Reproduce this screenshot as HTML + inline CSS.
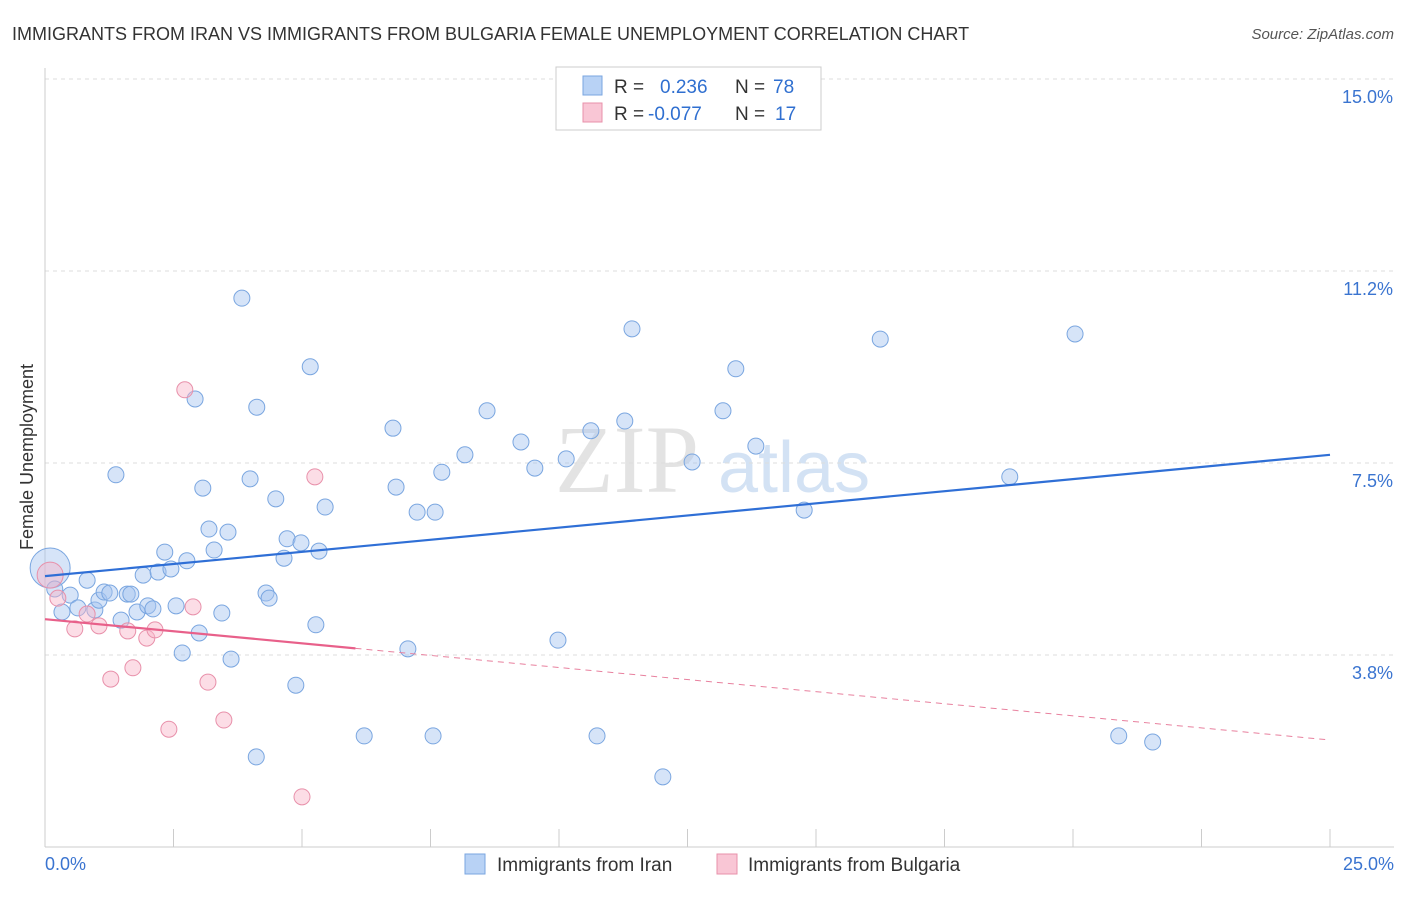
<!DOCTYPE html>
<html><head><meta charset="utf-8"><style>
body{margin:0;background:#fff;font-family:"Liberation Sans",sans-serif}
</style></head><body>
<svg id="chart" width="1406" height="892" xmlns="http://www.w3.org/2000/svg" font-family="Liberation Sans, sans-serif">
<text x="12" y="40" font-size="18" fill="#333">IMMIGRANTS FROM IRAN VS IMMIGRANTS FROM BULGARIA FEMALE UNEMPLOYMENT CORRELATION CHART</text>
<text x="1394" y="39" font-size="15" fill="#555" text-anchor="end" font-style="italic">Source: ZipAtlas.com</text>
<text x="555" y="492" font-size="96" fill="#ddd" font-family="Liberation Serif, serif" opacity="0.8">ZIP</text>
<text x="718" y="492" font-size="72" fill="#c9dcf2" opacity="0.8">atlas</text>
<g id="grid"></g>
<g id="marks"></g>
<text transform="translate(33,457) rotate(-90)" font-size="18" fill="#333" text-anchor="middle">Female Unemployment</text>
<g>
<rect x="556" y="67" width="265" height="63" fill="#fff" stroke="#ccc"/>
<rect x="583" y="76" width="19" height="19" fill="#b8d2f5" stroke="#7aa6e0"/>
<rect x="583" y="103" width="19" height="19" fill="#f9c6d5" stroke="#e890aa"/>
<text x="614" y="93" font-size="19" fill="#333">R =</text>
<text x="660" y="93" font-size="19" fill="#2f6fd0">0.236</text>
<text x="735" y="93" font-size="19" fill="#333">N =</text>
<text x="773" y="93" font-size="19" fill="#2f6fd0">78</text>
<text x="614" y="120" font-size="19" fill="#333">R =</text>
<text x="648" y="120" font-size="19" fill="#2f6fd0">-0.077</text>
<text x="735" y="120" font-size="19" fill="#333">N =</text>
<text x="775" y="120" font-size="19" fill="#2f6fd0">17</text>
</g>
<g>
<rect x="465" y="854" width="20" height="20" fill="#b8d2f5" stroke="#7aa6e0"/>
<text x="497" y="871" font-size="19" fill="#333">Immigrants from Iran</text>
<rect x="717" y="854" width="20" height="20" fill="#f9c6d5" stroke="#e890aa"/>
<text x="748" y="871" font-size="19" fill="#333">Immigrants from Bulgaria</text>
</g>
</svg>
<script>
const yTicks=[15.0,11.25,7.5,3.75];
const yTickLabels=["15.0%","11.2%","7.5%","3.8%"];
const xTickLabels=["0.0%","25.0%"];
const iranX=[0.10,0.19,0.33,0.49,0.64,0.82,0.97,1.05,1.15,1.26,1.38,1.48,1.60,1.67,1.79,1.91,2.00,2.10,2.20,2.33,2.45,2.55,2.67,2.76,2.92,3.00,3.07,3.19,3.29,3.44,3.56,3.62,3.83,3.99,4.11,4.12,4.30,4.36,4.49,4.65,4.71,4.88,4.98,5.16,5.27,5.33,5.45,6.21,6.77,6.83,7.06,7.24,7.55,7.59,7.72,8.17,8.60,9.26,9.53,9.98,10.14,10.62,10.74,11.28,11.42,12.02,12.59,13.19,13.44,13.83,14.77,16.25,18.77,20.04,20.89,21.55];
const iranY=[5.45,5.04,4.59,4.92,4.67,5.21,4.63,4.82,4.98,4.96,7.27,4.43,4.94,4.94,4.59,5.31,4.71,4.65,5.37,5.76,5.43,4.71,3.79,5.59,8.75,4.18,7.01,6.21,5.80,4.57,6.15,3.67,10.72,7.19,1.76,8.59,4.96,4.86,6.80,5.64,6.02,3.16,5.94,9.38,4.34,5.78,6.64,2.17,8.18,7.03,3.87,6.54,2.17,6.54,7.32,7.66,8.52,7.91,7.40,4.04,7.58,8.13,2.17,8.32,10.12,1.37,7.52,8.52,9.34,7.83,6.58,9.92,7.23,10.02,2.17,2.05];
const bulX=[0.10,0.25,0.58,0.82,1.05,1.28,1.61,1.71,1.98,2.14,2.41,2.72,2.88,3.17,3.48,5.00,5.25];
const bulY=[5.31,4.86,4.26,4.55,4.32,3.28,4.22,3.50,4.08,4.24,2.30,8.93,4.69,3.22,2.48,0.98,7.23];
const iranTrend=[5.29,7.66];
const bulTrend=[4.45,2.09];
const bulSolidEnd=6.04;
const NS="http://www.w3.org/2000/svg";
const X=v=>45+v*51.4, Y=v=>79+(15-v)*51.2;
function mk(tag,attrs,parent){const e=document.createElementNS(NS,tag);for(const k in attrs)e.setAttribute(k,attrs[k]);parent.appendChild(e);return e;}
const grid=document.getElementById('grid'), marks=document.getElementById('marks');
yTicks.forEach((t,i)=>{
 const l=mk('line',{x1:45,x2:1394,y1:Y(t),y2:Y(t),stroke:'#ddd','stroke-dasharray':'4,4'},grid);
 
 
 const tx=mk('text',{x:1393,y:Y(t)+24,'font-size':18,fill:'#3a74d0','text-anchor':'end'},grid);
 tx.textContent=yTickLabels[i];
 
 
});
const ax=mk('line',{x1:45,x2:1394,y1:Y(0),y2:Y(0),stroke:'#ccc'},grid);


const ay=mk('line',{x1:45,x2:45,y1:68,y2:Y(0),stroke:'#ccc'},grid);


for(let i=0;i<=10;i++){
 const tk=mk('line',{x1:X(i*2.5),x2:X(i*2.5),y1:Y(0),y2:Y(0)-18,stroke:'#ccc'},grid);
 
 
}
[[0,'start',45],[25,'end',1394]].forEach((d,i)=>{
 const tx=mk('text',{x:d[2],y:870,'font-size':18,fill:'#3a74d0','text-anchor':d[1]},grid);
 tx.textContent=xTickLabels[i];
 
 
});
iranX.forEach((x,i)=>{
 const c=mk('circle',{cx:X(x),cy:Y(iranY[i]),r:i===0?20:8,fill:'rgba(164,196,240,0.45)',stroke:'#7aa6e0','stroke-width':1},marks);
 
 
});
bulX.forEach((x,i)=>{
 const c=mk('circle',{cx:X(x),cy:Y(bulY[i]),r:i===0?13:8,fill:'rgba(248,180,200,0.45)',stroke:'#e890aa','stroke-width':1},marks);
 
 
});
const t1=mk('line',{x1:X(0),y1:Y(iranTrend[0]),x2:X(25),y2:Y(iranTrend[1]),stroke:'#2f6fd6','stroke-width':2.2},marks);


const bAt=v=>bulTrend[0]+(bulTrend[1]-bulTrend[0])*v/25;
const t2=mk('line',{x1:X(0),y1:Y(bulTrend[0]),x2:X(bulSolidEnd),y2:Y(bAt(bulSolidEnd)),stroke:'#e8608a','stroke-width':2.2},marks);


const t3=mk('line',{x1:X(bulSolidEnd),y1:Y(bAt(bulSolidEnd)),x2:X(25),y2:Y(bulTrend[1]),stroke:'#e8809e','stroke-width':1,'stroke-dasharray':'6,5'},marks);


</script>
</body></html>
